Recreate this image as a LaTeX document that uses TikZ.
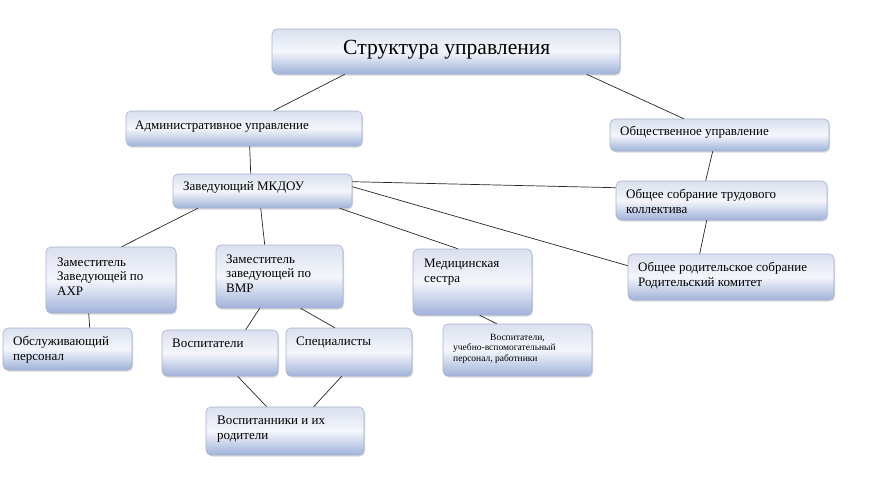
\documentclass[tikz,border=0pt]{standalone}
\usepackage{fontspec}
\setmainfont{Liberation Serif}
\usetikzlibrary{fit,shadows}
\definecolor{btop}{RGB}{218,224,238}
\definecolor{bmid}{RGB}{244,246,251}
\definecolor{bbot}{RGB}{160,178,218}
\definecolor{bline}{RGB}{165,178,206}
\tikzset{
  box/.style={draw=bline, line width=0.6pt, rounded corners=5pt, inner sep=0pt,
    top color=btop, bottom color=bbot, middle color=bmid,
    drop shadow={shadow xshift=1pt, shadow yshift=-1.5pt, fill=black!25, opacity=0.6}},
  txt/.style={anchor=base west, inner sep=0pt, align=left, font=\fontsize{13}{14.5}\selectfont},
  conn/.style={draw=black!85, line width=0.7pt}
}
\begin{document}
\begin{tikzpicture}[x=1pt,y=-1pt]
\useasboundingbox (0,0) rectangle (894,483);
% boxes
\node[box, fit={(272,29)(620,74)}] (title) {};
\node[box, fit={(126,111)(362,146)}] (admin) {};
\node[box, fit={(610,119)(829,151)}] (obsh) {};
\node[box, fit={(173,174)(352,208)}] (zav) {};
\node[box, fit={(616,181)(827,220)}] (sobr) {};
\node[box, fit={(46,247)(176,313)}] (ahr) {};
\node[box, fit={(216,245)(343,308)}] (vmr) {};
\node[box, fit={(413,249)(532,315)}] (med) {};
\node[box, fit={(628,254)(834,300)}] (rod) {};
\node[box, fit={(3,328)(132,370)}] (obsl) {};
\node[box, fit={(162,330)(278,376)}] (vosp) {};
\node[box, fit={(286,328)(412,376)}] (spec) {};
\node[box, fit={(443,324)(592,376)}] (uvp) {};
\node[box, fit={(206,407)(364,455)}] (vn) {};
% texts (anchor = baseline of the last line)
\node[txt, font=\fontsize{21.6}{24}\selectfont] (title-t) at (343,54) {Структура управления};
\node[txt] (admin-t) at (135,129) {Административное управление};
\node[txt] (obsh-t) at (620,135) {Общественное управление};
\node[txt] (zav-t) at (183,190) {Заведующий МКДОУ};
\node[txt] (sobr-t) at (626,213) {Общее собрание трудового\\коллектива};
\node[txt] (ahr-t) at (57,295) {Заместитель\\Заведующей по\\АХР};
\node[txt] (vmr-t) at (226,292) {Заместитель\\заведующей по\\ВМР};
\node[txt] (med-t) at (424,282) {Медицинская\\сестра};
\node[txt] (rod-t) at (638,286) {Общее родительское собрание\\Родительский комитет};
\node[txt] (obsl-t) at (13,360) {Обслуживающий\\персонал};
\node[txt] (vosp-t) at (172,347) {Воспитатели};
\node[txt] (spec-t) at (296,345) {Специалисты};
\node[txt, font=\fontsize{9.5}{10.5}\selectfont] (uvp-t) at (453,361) {\hspace*{37pt}Воспитатели,\\учебно-вспомогательный\\персонал, работники};
\node[txt] (vn-t) at (217,439) {Воспитанники и их\\родители};
% connectors
\draw[conn] ([xshift=73pt]title.south west) -- ([xshift=148pt]admin.north west);
\draw[conn] ([xshift=315pt]title.south west) -- ([xshift=74pt]obsh.north west);
\draw[conn] ([xshift=124pt]admin.south west) -- ([xshift=78pt]zav.north west);
\draw[conn] ([xshift=103pt]obsh.south west) -- ([xshift=90pt]sobr.north west);
\draw[conn] ([yshift=-8pt]zav.north east) -- ([yshift=-7pt]sobr.north west);
\draw[conn] ([yshift=-13pt]zav.north east) -- ([yshift=-12pt]rod.north west);
\draw[conn] ([xshift=91pt]sobr.south west) -- ([xshift=72pt]rod.north west);
\draw[conn] ([xshift=25pt]zav.south west) -- ([xshift=76pt]ahr.north west);
\draw[conn] ([xshift=88pt]zav.south west) -- ([xshift=49pt]vmr.north west);
\draw[conn] ([xshift=167pt]zav.south west) -- ([xshift=45pt]med.north west);
\draw[conn] ([xshift=43pt]ahr.south west) -- ([xshift=87pt]obsl.north west);
\draw[conn] ([xshift=44pt]vmr.south west) -- ([xshift=84pt]vosp.north west);
\draw[conn] ([xshift=85pt]vmr.south west) -- ([xshift=49pt]spec.north west);
\draw[conn] ([xshift=67pt]med.south west) -- ([xshift=54pt]uvp.north west);
\draw[conn] ([xshift=76pt]vosp.south west) -- ([xshift=61pt]vn.north west);
\draw[conn] ([xshift=56pt]spec.south west) -- ([xshift=108pt]vn.north west);
\end{tikzpicture}
\end{document}
